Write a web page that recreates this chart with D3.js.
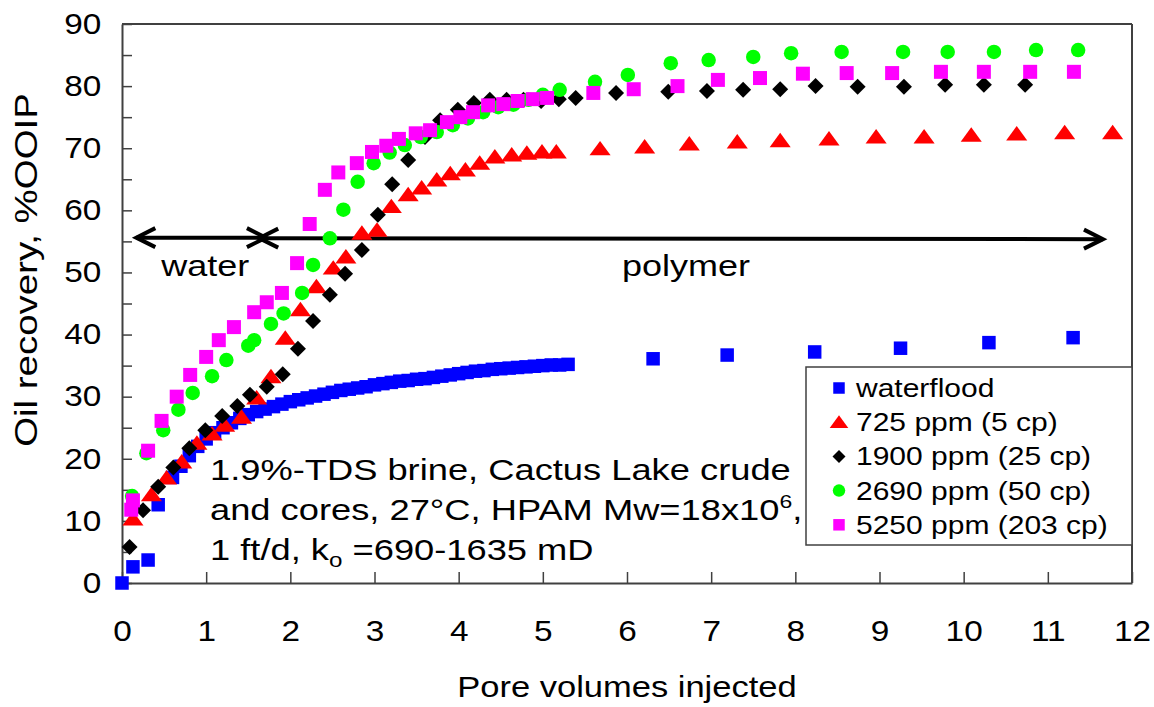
<!DOCTYPE html>
<html><head><meta charset="utf-8">
<script src="https://cdn.jsdelivr.net/npm/d3@7"></script>
<style>
body{margin:0;background:#fff}
svg{display:block}
text{font-family:"Liberation Sans",Arial,sans-serif;fill:#000}
</style>
</head><body>
<svg id="c" width="1154" height="707"></svg>
<script>
// ---------- data ----------
const xTickValues = [0,1,2,3,4,5,6,7,8,9,10,11,12];
const yTickValues = [0,5,10,15,20,25,30,35,40,45,50,55,60,65,70,75,80,85,90];
const yTickLabels = [0,10,20,30,40,50,60,70,80,90];

const waterflood = [[0,0],[0.13,2.6],[0.31,3.7],[0.43,12.6],[0.6,17.0],[0.7,18.8],[0.8,20.5],[0.9,22.0],[1.0,23.2],[1.1,24.2],[1.2,25.0],[1.3,25.8],[1.4,26.5],[1.5,27.1],[1.6,27.6],[1.7,28.0],[1.8,28.4],[1.9,28.8],[2.0,29.2],[2.1,29.5],[2.2,29.8],[2.3,30.1],[2.4,30.4],[2.5,30.7],[2.6,31.0],[2.7,31.2],[2.8,31.4],[2.9,31.6],[3.0,31.9],[3.1,32.1],[3.2,32.3],[3.3,32.5],[3.4,32.6],[3.5,32.8],[3.6,32.9],[3.7,33.1],[3.8,33.3],[3.9,33.5],[4.0,33.7],[4.1,33.9],[4.2,34.1],[4.3,34.2],[4.4,34.4],[4.5,34.5],[4.6,34.6],[4.7,34.7],[4.8,34.8],[4.9,34.9],[5.0,35.0],[5.1,35.1],[5.2,35.1],[5.3,35.2],[6.31,36.1],[7.19,36.7],[8.23,37.2],[9.25,37.8],[10.3,38.7],[11.3,39.5]];
const ppm725 = [[0.13,10.3],[0.35,14.2],[0.53,16.9],[0.71,19.5],[0.89,22.5],[1.07,24.0],[1.22,25.4],[1.42,26.7],[1.6,29.8],[1.77,33.2],[1.94,39.4],[2.12,44.0],[2.31,47.7],[2.51,50.7],[2.66,52.5],[2.85,56.3],[3.03,56.8],[3.2,60.6],[3.4,62.5],[3.56,63.6],[3.74,64.9],[3.9,65.9],[4.08,66.5],[4.25,67.6],[4.43,68.6],[4.63,68.9],[4.81,69.2],[4.99,69.4],[5.16,69.4],[5.68,69.9],[6.21,70.2],[6.74,70.7],[7.31,71.0],[7.82,71.2],[8.4,71.5],[8.96,71.8],[9.53,71.8],[10.09,72.1],[10.63,72.3],[11.2,72.5],[11.77,72.5]];
const ppm1900 = [[0.09,5.8],[0.25,11.7],[0.43,15.5],[0.61,18.6],[0.8,21.7],[0.99,24.6],[1.19,26.9],[1.37,28.5],[1.52,30.3],[1.72,31.6],[1.91,33.6],[2.09,37.7],[2.27,42.2],[2.47,46.4],[2.65,49.8],[2.85,53.6],[3.04,59.3],[3.21,64.2],[3.4,68.1],[3.6,71.8],[3.78,74.5],[3.99,76.2],[4.18,77.3],[4.37,77.8],[4.57,77.8],[4.77,77.8],[4.98,77.6],[5.19,77.9],[5.39,78.1],[5.87,78.9],[6.49,79.1],[6.95,79.2],[7.38,79.4],[7.82,79.5],[8.24,80.0],[8.74,79.9],[9.29,79.9],[9.78,80.2],[10.24,80.2],[10.73,80.2]];
const ppm2690 = [[0.12,14.0],[0.29,20.9],[0.49,24.6],[0.67,27.9],[0.84,30.6],[1.07,33.3],[1.24,35.9],[1.5,38.2],[1.57,39.1],[1.77,41.7],[1.92,43.4],[2.14,46.7],[2.27,51.2],[2.47,55.5],[2.63,60.1],[2.8,64.6],[2.99,67.6],[3.18,69.3],[3.36,70.5],[3.55,71.8],[3.74,72.6],[3.93,73.7],[4.11,74.8],[4.29,75.8],[4.47,76.6],[4.65,77.0],[4.83,77.8],[5.0,78.6],[5.2,79.4],[5.62,80.7],[6.01,81.8],[6.52,83.7],[6.97,84.2],[7.5,84.7],[7.95,85.3],[8.55,85.5],[9.28,85.5],[9.81,85.5],[10.36,85.5],[10.86,85.8],[11.36,85.8]];
const ppm5250 = [[0.11,11.8],[0.13,13.3],[0.31,21.3],[0.47,26.1],[0.65,30.0],[0.81,33.5],[1.0,36.4],[1.15,39.1],[1.33,41.2],[1.57,43.6],[1.72,45.2],[1.9,46.7],[2.08,51.5],[2.23,57.8],[2.41,63.3],[2.57,66.1],[2.79,67.6],[2.97,69.4],[3.14,70.4],[3.29,71.5],[3.49,72.4],[3.66,72.9],[3.86,74.2],[4.02,75.0],[4.17,75.8],[4.35,76.9],[4.53,77.1],[4.7,77.6],[4.88,77.9],[5.05,78.1],[5.6,78.9],[6.08,79.5],[6.6,80.0],[7.08,81.0],[7.58,81.3],[8.09,82.0],[8.61,82.1],[9.15,82.1],[9.73,82.3],[10.24,82.3],[10.79,82.3],[11.31,82.3]];

const seriesNames = ["waterflood","725 ppm (5 cp)","1900 ppm (25 cp)","2690 ppm (50 cp)","5250 ppm (203 cp)"];
const seriesData = [waterflood, ppm725, ppm1900, ppm2690, ppm5250];
const seriesColors = ["#0000ff","#ff0000","#000000","#00ff00","#ff00ff"];
const seriesShapes = ["square","triangle","diamond","circle","square"];

const xTitle = "Pore volumes injected";
const yTitle = "Oil recovery, %OOIP";
const arrowY = 55.6;
const waterArrow = [0.17, 1.71];
const polymerArrow = [1.63, 11.655];
const phaseLabels = [{text:"water", x:0.99},{text:"polymer", x:6.7}];
const phaseLabelY = 49.4;

// ---------- layout ----------
const svg = d3.select("#c");
const L = 122, R = 1132, T = 24, B = 583;
const x = d3.scaleLinear().domain([0,12]).range([L,R]);
const y = d3.scaleLinear().domain([0,90]).range([B,T]);
const axisColor = "#404040";

function stext(g, str, tx, ty, size, sx, anchor){
  return g.append("text")
    .attr("transform", `translate(${tx},${ty}) scale(${sx},1)`)
    .attr("font-size", size)
    .attr("text-anchor", anchor || "start")
    .text(str);
}

// frame top/right
svg.append("line").attr("x1",L).attr("x2",R).attr("y1",T).attr("y2",T).attr("stroke",axisColor).attr("stroke-width",2);
svg.append("line").attr("x1",R).attr("x2",R).attr("y1",T).attr("y2",B).attr("stroke",axisColor).attr("stroke-width",2);

// axes
const xAxis = d3.axisBottom(x).tickValues(xTickValues).tickSizeInner(-11).tickSizeOuter(0).tickPadding(37).tickFormat(d3.format("d"));
const gx = svg.append("g").attr("transform",`translate(0,${B})`).call(xAxis);
gx.select(".domain").attr("stroke",axisColor).attr("stroke-width",2);
gx.selectAll(".tick line").attr("stroke",axisColor).attr("stroke-width",1.5);
gx.selectAll(".tick text").attr("font-size",29).attr("font-family",'"Liberation Sans",Arial,sans-serif').attr("fill","#000")
  .attr("transform","scale(1.15,1)");

const yAxis = d3.axisLeft(y).tickValues(yTickValues).tickSizeInner(-10).tickSizeOuter(0).tickPadding(18)
  .tickFormat(d => yTickLabels.includes(d) ? d : "");
const gy = svg.append("g").attr("transform",`translate(${L},0)`).call(yAxis);
gy.select(".domain").attr("stroke",axisColor).attr("stroke-width",2);
gy.selectAll(".tick line").attr("stroke",axisColor).attr("stroke-width",1.5);
gy.selectAll(".tick text").attr("font-size",29).attr("font-family",'"Liberation Sans",Arial,sans-serif').attr("fill","#000")
  .attr("transform","scale(1.15,1)");

// axis titles
stext(svg, xTitle, (L+R)/2, 697, 30, 1.15, "middle");
svg.append("text")
  .attr("transform",`translate(37,270) rotate(-90) scale(1.24,1)`)
  .attr("font-size",31).attr("text-anchor","middle").text(yTitle);

// arrows
function arrowHead(g, tipX, tipY, dir){
  const len = 19, half = 9.5;
  g.append("path")
    .attr("d", `M${tipX - dir*len},${tipY-half} L${tipX},${tipY} L${tipX - dir*len},${tipY+half}`)
    .attr("fill","none").attr("stroke","#000").attr("stroke-width",4).attr("stroke-linejoin","miter");
}
const ga = svg.append("g");
const ay = y(arrowY);
ga.append("line").attr("x1",x(waterArrow[0])).attr("x2",x(waterArrow[1])).attr("y1",ay).attr("y2",ay).attr("stroke","#000").attr("stroke-width",4);
arrowHead(ga, x(waterArrow[0]), ay, -1);
arrowHead(ga, x(waterArrow[1]), ay, 1);
ga.append("line").attr("x1",x(polymerArrow[0])).attr("x2",x(polymerArrow[1])).attr("y1",ay+0.5).attr("y2",ay+1.5).attr("stroke","#000").attr("stroke-width",4);
arrowHead(ga, x(polymerArrow[0]), ay+0.5, -1);
arrowHead(ga, x(polymerArrow[1]), ay+1.5, 1);
phaseLabels.forEach(p => stext(svg, p.text, x(p.x), y(phaseLabelY), 30, 1.2, "middle"));

// annotation
const ann = svg.append("g").attr("transform","translate(210,0) scale(1.21,1)");
ann.append("text").attr("x",0).attr("y",480).attr("font-size",30).text("1.9%-TDS brine, Cactus Lake crude");
const t2 = ann.append("text").attr("x",0).attr("y",520).attr("font-size",30);
t2.append("tspan").text("and cores, 27°C, HPAM Mw=18x10");
t2.append("tspan").attr("dy",-12).attr("font-size",19).text("6");
t2.append("tspan").attr("dy",12).text(",");
const t3 = ann.append("text").attr("x",0).attr("y",560).attr("font-size",30);
t3.append("tspan").text("1 ft/d, k");
t3.append("tspan").attr("dy",7).attr("font-size",20).text("o");
t3.append("tspan").attr("dy",-7).text(" =690-1635 mD");

// markers
function shapePath(shape, s){
  const h = s/2;
  switch(shape){
    case "square": return `M${-h},${-h}H${h}V${h}H${-h}Z`;
    case "diamond": return `M0,${-h}L${h},0L0,${h}L${-h},0Z`;
    case "triangle": { const w = s*0.62, ht = s*0.85; return `M0,${-ht*0.55}L${w},${ht*0.45}L${-w},${ht*0.45}Z`; }
    case "circle": return `M${h},0A${h},${h} 0 1,1 ${-h},0A${h},${h} 0 1,1 ${h},0Z`;
  }
}
const markerSize = {square:13.5, diamond:16, triangle:17, circle:14.5};
const legendSize = {square:11.5, diamond:13, triangle:15, circle:12.5};

seriesData.forEach((data, i) => {
  const shape = seriesShapes[i];
  const sz = (i === 4) ? 14 : markerSize[shape];
  svg.append("g").selectAll("path").data(data).join("path")
    .attr("transform", d => `translate(${x(d[0])},${y(d[1])})`)
    .attr("d", shapePath(shape, sz))
    .attr("fill", seriesColors[i]);
});

// legend
const lg = svg.append("g");
lg.append("rect").attr("x",806).attr("y",367).attr("width",R-806).attr("height",178)
  .attr("fill","#fff").attr("stroke",axisColor).attr("stroke-width",1.5);
seriesNames.forEach((name, i) => {
  const ry = 388 + i*34.2;
  lg.append("path").attr("transform",`translate(839,${ry})`).attr("d", shapePath(seriesShapes[i], legendSize[seriesShapes[i]])).attr("fill",seriesColors[i]);
  stext(lg, name, 856, ry + 9, 25, 1.2, "start");
});
</script>
</body></html>
